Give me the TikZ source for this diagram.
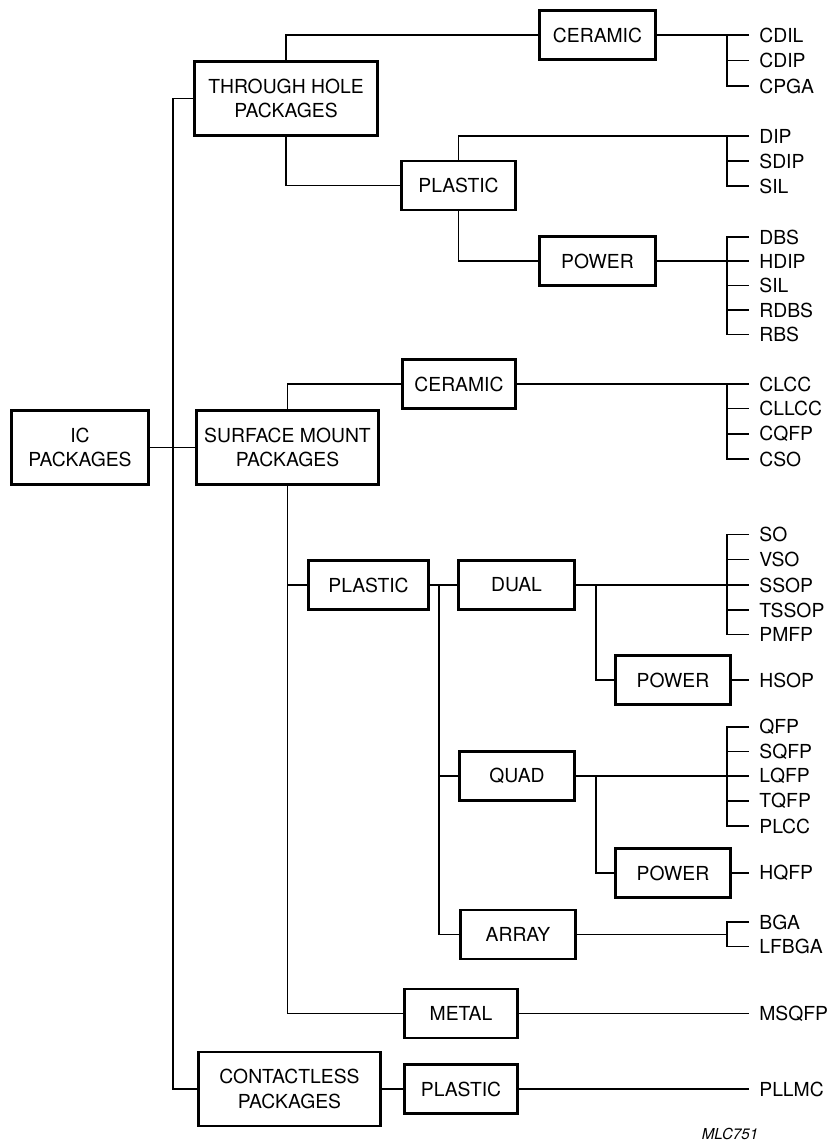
\documentclass[tikz,border=0pt]{standalone}
\usepackage{fontspec}
\setmainfont{TeX Gyre Heros}
\usetikzlibrary{calc}

\tikzset{
  box/.style={draw, line width=1.6pt, inner sep=0pt, align=center,
    minimum width=#1, minimum height=0.98cm, font=\fontsize{11}{14}\selectfont},
  bigbox/.style={box=#1, minimum height=1.48cm},
  leaf/.style={anchor=west, inner xsep=0.2cm, inner ysep=0pt, font=\fontsize{11}{14}\selectfont},
  link/.style={line width=0.8pt},
}

\begin{document}
\begin{tikzpicture}[x=0.02cm,y=-0.02cm]
  \useasboundingbox (0,0) rectangle (832,1142);

  % main groups
  \node[bigbox=2.74cm] (ic) at (80,447.5) {IC\\PACKAGES};
  \node[bigbox=3.66cm] (th) at (286,98.5) {THROUGH HOLE\\PACKAGES};
  \node[bigbox=3.64cm] (sm) at (287.5,447.5) {SURFACE MOUNT\\PACKAGES};
  \node[bigbox=3.64cm] (cl) at (289.5,1089) {CONTACTLESS\\PACKAGES};

  % through hole
  \node[box=2.32cm] (thcer) at (597.5,35) {CERAMIC};
  \node[box=2.28cm] (thpla) at (458.5,185.5) {PLASTIC};
  \node[box=2.32cm] (thpow) at (597.5,261) {POWER};

  % surface mount
  \node[box=2.26cm] (smcer) at (459,384) {CERAMIC};
  \node[box=2.4cm] (smpla) at (368.5,585) {PLASTIC};
  \node[box=2.32cm] (dual) at (516.5,585) {DUAL};
  \node[box=2.3cm] (dualpow) at (673,680) {POWER};
  \node[box=2.3cm] (quad) at (517,776) {QUAD};
  \node[box=2.3cm] (quadpow) at (673,873) {POWER};
  \node[box=2.3cm] (array) at (518,934.5) {ARRAY};
  \node[box=2.26cm] (metal) at (461,1013.5) {METAL};

  % contactless
  \node[box=2.26cm] (clpla) at (461,1089) {PLASTIC};

  % package types
  \foreach \n/\t/\y in {cdil/CDIL/35, cdip/CDIP/60.5, cpga/CPGA/86,
      dip/DIP/136, sdip/SDIP/161, sil/SIL/186,
      dbs/DBS/237, hdip/HDIP/261, silb/SIL/285.5, rdbs/RDBS/310, rbs/RBS/334.5,
      clcc/CLCC/384, cllcc/CLLCC/408.5, cqfp/CQFP/434, cso/CSO/459,
      so/SO/534.5, vso/VSO/559.5, ssop/SSOP/585, tssop/TSSOP/610, pmfp/PMFP/634.5,
      hsop/HSOP/680,
      qfp/QFP/727, sqfp/SQFP/751.5, lqfp/LQFP/776, tqfp/TQFP/801, plcc/PLCC/826,
      hqfp/HQFP/873,
      bga/BGA/922, lfbga/LFBGA/946.5,
      msqfp/MSQFP/1013.5, pllmc/PLLMC/1089}
    \node[leaf] (\n) at (749,\y) {\t};

  \node[font=\fontsize{8.6}{10}\itshape\selectfont] (code) at (730,1134) {MLC751};

  \coordinate (trunk) at (173,0);
  \coordinate (trunkb) at (439,0);
  \coordinate (trunkc) at (596,0);
  \coordinate (brk) at (727,0);

  % tree
  \draw[link] (ic) -- (sm);
  \draw[link] (th.west) -- (th.west -| trunk) |- (cl.west);
  \draw[link] (th.north) |- (thcer.west);
  \draw[link] (th.south) |- (thpla.west);
  \draw[link] (thpla.north) |- (dip.west);
  \draw[link] (thpla.south) |- (thpow.west);
  \draw[link] (sm.north) |- (smcer.west);
  \draw[link] (sm.south) |- (metal.west);
  \draw[link] (sm.south |- smpla.west) -- (smpla.west);
  \draw[link] (smpla) -- (dual);
  \draw[link] (trunkb |- dual.west) |- (array.west);
  \draw[link] (trunkb |- quad.west) -- (quad.west);
  \draw[link] (trunkc |- dual.east) |- (dualpow.west);
  \draw[link] (trunkc |- quad.east) |- (quadpow.west);
  \draw[link] (cl) -- (clpla);

  % to the package types
  \draw[link] (thcer.east) -- (cdil.west);
  \draw[link] (thpow.east) -- (hdip.west);
  \draw[link] (smcer.east) -- (clcc.west);
  \draw[link] (dual.east) -- (ssop.west);
  \draw[link] (quad.east) -- (lqfp.west);
  \draw[link] (array.east) -- (brk |- array.east);
  \draw[link] (dualpow.east) -- (hsop.west);
  \draw[link] (quadpow.east) -- (hqfp.west);
  \draw[link] (metal.east) -- (msqfp.west);
  \draw[link] (clpla.east) -- (pllmc.west);
  \foreach \a/\b in {cdil/cpga, dip/sil, dbs/rbs, clcc/cso, so/pmfp, qfp/plcc, bga/lfbga}
    \draw[link] (\a.west) -| (brk |- \b.west) -- (\b.west);
  \foreach \m in {cdip, sdip, hdip, silb, rdbs, cllcc, cqfp, vso, tssop, sqfp, tqfp}
    \draw[link] (brk |- \m.west) -- (\m.west);
\end{tikzpicture}
\end{document}
